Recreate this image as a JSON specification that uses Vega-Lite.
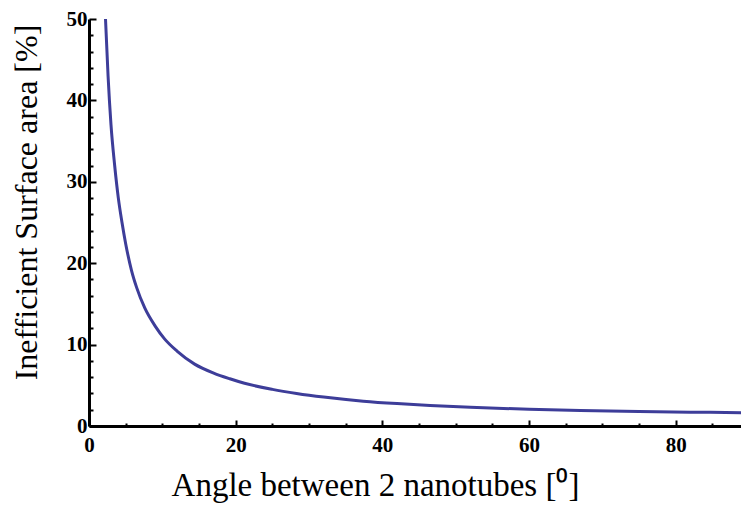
{
  "$schema": "https://vega.github.io/schema/vega-lite/v6.json",
  "width": 652,
  "height": 407,
  "autosize": {"type": "none"},
  "padding": {"left": 89, "top": 19, "right": 0, "bottom": 80},
  "background": "white",
  "config": {"view": {"stroke": null}},
  "data": {"values": [
    {"angle": 2.25, "area": 50},
    {"angle": 2.6, "area": 43},
    {"angle": 3.0, "area": 37},
    {"angle": 3.5, "area": 32},
    {"angle": 4.0, "area": 28},
    {"angle": 4.5, "area": 25},
    {"angle": 5.0, "area": 22.4},
    {"angle": 5.8, "area": 19.1},
    {"angle": 6.5, "area": 17},
    {"angle": 7.6, "area": 14.5},
    {"angle": 9.0, "area": 12.3},
    {"angle": 10.3, "area": 10.7},
    {"angle": 12.0, "area": 9.2},
    {"angle": 14.4, "area": 7.6},
    {"angle": 17.0, "area": 6.5},
    {"angle": 19.2, "area": 5.8},
    {"angle": 21.2, "area": 5.25},
    {"angle": 25.0, "area": 4.5},
    {"angle": 28.3, "area": 4.0},
    {"angle": 32.0, "area": 3.55},
    {"angle": 37.4, "area": 3.05},
    {"angle": 42.0, "area": 2.75},
    {"angle": 46.5, "area": 2.52},
    {"angle": 52.0, "area": 2.3},
    {"angle": 60.0, "area": 2.05},
    {"angle": 67.0, "area": 1.9},
    {"angle": 75.0, "area": 1.78},
    {"angle": 82.0, "area": 1.7},
    {"angle": 88.9, "area": 1.64}
  ]},
  "mark": {"type": "line", "color": "#3d3d99", "strokeWidth": 3, "interpolate": "monotone", "clip": true},
  "encoding": {
    "x": {
      "field": "angle", "type": "quantitative",
      "scale": {"domain": [0, 88.9], "nice": false, "zero": false},
      "axis": {
        "title": "Angle between 2 nanotubes [⁰]",
        "values": [0,5,10,15,20,25,30,35,40,45,50,55,60,65,70,75,80,85],
        "labelExpr": "datum.value % 20 === 0 ? datum.label : ''",
        "labelOverlap": false,
        "labelFlush": false,
        "labelFont": "Liberation Serif", "labelFontWeight": "bold", "labelFontSize": 21, "labelColor": "black",
        "labelPadding": 14,
        "domainColor": "black", "domainWidth": 3,
        "tickColor": "black", "tickWidth": 2,
        "tickSize": {"condition": {"test": "datum.value % 20 === 0", "value": -6}, "value": -3},
        "grid": false,
        "titleFont": "Liberation Serif", "titleFontWeight": "normal", "titleFontSize": 33, "titleColor": "black",
        "titleX": 286, "titleY": 69, "titleAnchor": "middle", "titleBaseline": "alphabetic"
      }
    },
    "y": {
      "field": "area", "type": "quantitative",
      "scale": {"domain": [0, 50], "nice": false},
      "axis": {
        "title": "Inefficient Surface area [%]",
        "values": [0,2,4,6,8,10,12,14,16,18,20,22,24,26,28,30,32,34,36,38,40,42,44,46,48,50],
        "labelExpr": "datum.value % 10 === 0 ? datum.label : ''",
        "labelOverlap": false,
        "labelFlush": false,
        "labelFont": "Liberation Serif", "labelFontWeight": "bold", "labelFontSize": 21, "labelColor": "black",
        "labelPadding": 9,
        "domainColor": "black", "domainWidth": 3,
        "tickColor": "black", "tickWidth": 2,
        "tickSize": {"condition": {"test": "datum.value % 10 === 0", "value": -7}, "value": -4},
        "grid": false,
        "titleFont": "Liberation Serif", "titleFontWeight": "normal", "titleFontSize": 32, "titleColor": "black",
        "titleX": -53, "titleY": 183, "titleAnchor": "middle", "titleAngle": -90, "titleBaseline": "alphabetic"
      }
    }
  }
}
